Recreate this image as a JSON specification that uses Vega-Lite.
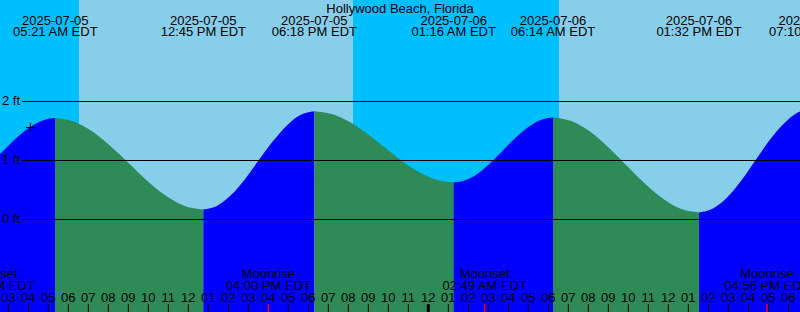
{
  "$schema": "https://vega.github.io/schema/vega-lite/v6.json",
  "width": 800,
  "height": 312,
  "autosize": {"type": "none"},
  "padding": 0,
  "background": "#87ceeb",
  "config": {"view": {"stroke": null}, "text": {"font": "Liberation Sans", "fontSize": 13, "color": "#000000"}},
  "datasets": {
    "sky": [
      {"start": "2025-07-05T02:35:00", "end": "2025-07-05T06:32:00", "kind": "night"},
      {"start": "2025-07-05T06:32:00", "end": "2025-07-05T20:14:00", "kind": "day"},
      {"start": "2025-07-05T20:14:00", "end": "2025-07-06T06:32:00", "kind": "night"},
      {"start": "2025-07-06T06:32:00", "end": "2025-07-06T18:35:00", "kind": "day"}
    ],
    "tide": [
      {"t": "2025-07-05T02:00:00", "h": 0.93, "seg": "s0", "phase": "rising"},
      {"t": "2025-07-05T02:35:00", "h": 1.11, "seg": "s0", "phase": "rising"},
      {"t": "2025-07-05T03:00:00", "h": 1.25, "seg": "s0", "phase": "rising"},
      {"t": "2025-07-05T03:30:00", "h": 1.41, "seg": "s0", "phase": "rising"},
      {"t": "2025-07-05T04:00:00", "h": 1.546, "seg": "s0", "phase": "rising"},
      {"t": "2025-07-05T04:30:00", "h": 1.648, "seg": "s0", "phase": "rising"},
      {"t": "2025-07-05T05:00:00", "h": 1.707, "seg": "s0", "phase": "rising"},
      {"t": "2025-07-05T05:21:00", "h": 1.72, "seg": "s0", "phase": "rising"},
      {"t": "2025-07-05T05:21:00", "h": 1.72, "seg": "s1", "phase": "falling"},
      {"t": "2025-07-05T06:16:00", "h": 1.661, "seg": "s1", "phase": "falling"},
      {"t": "2025-07-05T07:12:00", "h": 1.493, "seg": "s1", "phase": "falling"},
      {"t": "2025-07-05T08:07:00", "h": 1.242, "seg": "s1", "phase": "falling"},
      {"t": "2025-07-05T09:03:00", "h": 0.945, "seg": "s1", "phase": "falling"},
      {"t": "2025-07-05T09:58:00", "h": 0.648, "seg": "s1", "phase": "falling"},
      {"t": "2025-07-05T10:54:00", "h": 0.397, "seg": "s1", "phase": "falling"},
      {"t": "2025-07-05T11:49:00", "h": 0.229, "seg": "s1", "phase": "falling"},
      {"t": "2025-07-05T12:45:00", "h": 0.17, "seg": "s1", "phase": "falling"},
      {"t": "2025-07-05T12:45:00", "h": 0.17, "seg": "s2", "phase": "rising"},
      {"t": "2025-07-05T13:27:00", "h": 0.233, "seg": "s2", "phase": "rising"},
      {"t": "2025-07-05T14:08:00", "h": 0.414, "seg": "s2", "phase": "rising"},
      {"t": "2025-07-05T14:50:00", "h": 0.684, "seg": "s2", "phase": "rising"},
      {"t": "2025-07-05T15:31:00", "h": 1.0025, "seg": "s2", "phase": "rising"},
      {"t": "2025-07-05T16:13:00", "h": 1.321, "seg": "s2", "phase": "rising"},
      {"t": "2025-07-05T16:55:00", "h": 1.591, "seg": "s2", "phase": "rising"},
      {"t": "2025-07-05T17:36:00", "h": 1.772, "seg": "s2", "phase": "rising"},
      {"t": "2025-07-05T18:18:00", "h": 1.835, "seg": "s2", "phase": "rising"},
      {"t": "2025-07-05T18:18:00", "h": 1.835, "seg": "s3", "phase": "falling"},
      {"t": "2025-07-05T19:10:00", "h": 1.789, "seg": "s3", "phase": "falling"},
      {"t": "2025-07-05T20:03:00", "h": 1.658, "seg": "s3", "phase": "falling"},
      {"t": "2025-07-05T20:55:00", "h": 1.462, "seg": "s3", "phase": "falling"},
      {"t": "2025-07-05T21:47:00", "h": 1.231, "seg": "s3", "phase": "falling"},
      {"t": "2025-07-05T22:39:00", "h": 1.0, "seg": "s3", "phase": "falling"},
      {"t": "2025-07-05T23:32:00", "h": 0.804, "seg": "s3", "phase": "falling"},
      {"t": "2025-07-06T00:24:00", "h": 0.673, "seg": "s3", "phase": "falling"},
      {"t": "2025-07-06T01:16:00", "h": 0.627, "seg": "s3", "phase": "falling"},
      {"t": "2025-07-06T01:16:00", "h": 0.627, "seg": "s4", "phase": "rising"},
      {"t": "2025-07-06T01:53:00", "h": 0.669, "seg": "s4", "phase": "rising"},
      {"t": "2025-07-06T02:31:00", "h": 0.789, "seg": "s4", "phase": "rising"},
      {"t": "2025-07-06T03:08:00", "h": 0.967, "seg": "s4", "phase": "rising"},
      {"t": "2025-07-06T03:45:00", "h": 1.179, "seg": "s4", "phase": "rising"},
      {"t": "2025-07-06T04:22:00", "h": 1.39, "seg": "s4", "phase": "rising"},
      {"t": "2025-07-06T05:00:00", "h": 1.568, "seg": "s4", "phase": "rising"},
      {"t": "2025-07-06T05:37:00", "h": 1.688, "seg": "s4", "phase": "rising"},
      {"t": "2025-07-06T06:14:00", "h": 1.73, "seg": "s4", "phase": "rising"},
      {"t": "2025-07-06T06:14:00", "h": 1.73, "seg": "s5", "phase": "falling"},
      {"t": "2025-07-06T07:09:00", "h": 1.669, "seg": "s5", "phase": "falling"},
      {"t": "2025-07-06T08:04:00", "h": 1.494, "seg": "s5", "phase": "falling"},
      {"t": "2025-07-06T08:58:00", "h": 1.233, "seg": "s5", "phase": "falling"},
      {"t": "2025-07-06T09:53:00", "h": 0.925, "seg": "s5", "phase": "falling"},
      {"t": "2025-07-06T10:48:00", "h": 0.617, "seg": "s5", "phase": "falling"},
      {"t": "2025-07-06T11:43:00", "h": 0.356, "seg": "s5", "phase": "falling"},
      {"t": "2025-07-06T12:37:00", "h": 0.181, "seg": "s5", "phase": "falling"},
      {"t": "2025-07-06T13:32:00", "h": 0.12, "seg": "s5", "phase": "falling"},
      {"t": "2025-07-06T13:32:00", "h": 0.12, "seg": "s6", "phase": "rising"},
      {"t": "2025-07-06T14:14:00", "h": 0.187, "seg": "s6", "phase": "rising"},
      {"t": "2025-07-06T14:57:00", "h": 0.378, "seg": "s6", "phase": "rising"},
      {"t": "2025-07-06T15:39:00", "h": 0.663, "seg": "s6", "phase": "rising"},
      {"t": "2025-07-06T16:21:00", "h": 1.0, "seg": "s6", "phase": "rising"},
      {"t": "2025-07-06T17:03:00", "h": 1.337, "seg": "s6", "phase": "rising"},
      {"t": "2025-07-06T17:46:00", "h": 1.622, "seg": "s6", "phase": "rising"},
      {"t": "2025-07-06T18:28:00", "h": 1.813, "seg": "s6", "phase": "rising"},
      {"t": "2025-07-06T19:10:00", "h": 1.88, "seg": "s6", "phase": "rising"}
    ],
    "levels": [
      {"lvl": 0, "label": "0 ft"},
      {"lvl": 1, "label": "1 ft"},
      {"lvl": 2, "label": "2 ft"}
    ],
    "now": [{"t": "2025-07-05T04:06:00", "h": 1.559}],
    "events": [
      {"t": "2025-07-05T05:21:00"},
      {"t": "2025-07-05T12:45:00"},
      {"t": "2025-07-05T18:18:00"},
      {"t": "2025-07-06T01:16:00"},
      {"t": "2025-07-06T06:14:00"},
      {"t": "2025-07-06T13:32:00"},
      {"t": "2025-07-06T19:10:00"}
    ],
    "moon": [
      {"t": "2025-07-05T02:12:00", "ev": "Moonset"},
      {"t": "2025-07-05T16:00:00", "ev": "Moonrise"},
      {"t": "2025-07-06T02:49:00", "ev": "Moonset"},
      {"t": "2025-07-06T16:56:00", "ev": "Moonrise"}
    ],
    "hours": [
      {"t": "2025-07-05T03:00:00"}, {"t": "2025-07-05T04:00:00"}, {"t": "2025-07-05T05:00:00"}, {"t": "2025-07-05T06:00:00"},
      {"t": "2025-07-05T07:00:00"}, {"t": "2025-07-05T08:00:00"}, {"t": "2025-07-05T09:00:00"}, {"t": "2025-07-05T10:00:00"},
      {"t": "2025-07-05T11:00:00"}, {"t": "2025-07-05T12:00:00"}, {"t": "2025-07-05T13:00:00"}, {"t": "2025-07-05T14:00:00"},
      {"t": "2025-07-05T15:00:00"}, {"t": "2025-07-05T16:00:00"}, {"t": "2025-07-05T17:00:00"}, {"t": "2025-07-05T18:00:00"},
      {"t": "2025-07-05T19:00:00"}, {"t": "2025-07-05T20:00:00"}, {"t": "2025-07-05T21:00:00"}, {"t": "2025-07-05T22:00:00"},
      {"t": "2025-07-05T23:00:00"}, {"t": "2025-07-06T00:00:00"}, {"t": "2025-07-06T01:00:00"}, {"t": "2025-07-06T02:00:00"},
      {"t": "2025-07-06T03:00:00"}, {"t": "2025-07-06T04:00:00"}, {"t": "2025-07-06T05:00:00"}, {"t": "2025-07-06T06:00:00"},
      {"t": "2025-07-06T07:00:00"}, {"t": "2025-07-06T08:00:00"}, {"t": "2025-07-06T09:00:00"}, {"t": "2025-07-06T10:00:00"},
      {"t": "2025-07-06T11:00:00"}, {"t": "2025-07-06T12:00:00"}, {"t": "2025-07-06T13:00:00"}, {"t": "2025-07-06T14:00:00"},
      {"t": "2025-07-06T15:00:00"}, {"t": "2025-07-06T16:00:00"}, {"t": "2025-07-06T17:00:00"}, {"t": "2025-07-06T18:00:00"}
    ]
  },
  "layer": [
    {
      "data": {"name": "sky"},
      "mark": {"type": "rect", "clip": true},
      "encoding": {
        "x": {"field": "start", "type": "temporal", "axis": null,
              "scale": {"domain": [{"year": 2025, "month": 7, "date": 5, "hours": 2, "minutes": 35}, {"year": 2025, "month": 7, "date": 6, "hours": 18, "minutes": 35}], "nice": false}},
        "x2": {"field": "end"},
        "color": {"field": "kind", "type": "nominal", "legend": null,
                  "scale": {"domain": ["night", "day", "rising", "falling"], "range": ["#00bfff", "#87ceeb", "#0000ff", "#2e8b57"]}}
      }
    },
    {
      "data": {"name": "tide"},
      "mark": {"type": "area", "interpolate": "monotone", "clip": true},
      "encoding": {
        "x": {"field": "t", "type": "temporal", "axis": null},
        "y": {"field": "h", "type": "quantitative", "axis": null,
              "scale": {"domain": [-1.5678, 3.7203], "nice": false, "zero": false}},
        "y2": {"datum": -1.5678},
        "color": {"field": "phase", "type": "nominal", "legend": null,
                  "scale": {"domain": ["night", "day", "rising", "falling"], "range": ["#00bfff", "#87ceeb", "#0000ff", "#2e8b57"]}},
        "detail": {"field": "seg"}
      }
    },
    {
      "data": {"name": "levels"},
      "mark": {"type": "rule", "color": "#000000", "strokeWidth": 1, "clip": true},
      "encoding": {
        "y": {"field": "lvl", "type": "quantitative", "axis": null},
        "x": {"datum": {"year": 2025, "month": 7, "date": 5, "hours": 3, "minutes": 41}, "type": "temporal", "axis": null},
        "x2": {"datum": {"year": 2025, "month": 7, "date": 6, "hours": 18, "minutes": 35}}
      }
    },
    {
      "data": {"name": "levels"},
      "mark": {"type": "text", "align": "left", "baseline": "middle", "dx": 2, "clip": true},
      "encoding": {
        "y": {"field": "lvl", "type": "quantitative", "axis": null},
        "x": {"datum": {"year": 2025, "month": 7, "date": 5, "hours": 2, "minutes": 35}, "type": "temporal", "axis": null},
        "text": {"field": "label"}
      }
    },
    {
      "data": {"name": "now"},
      "mark": {"type": "point", "shape": "M-1,0L1,0M0,-1L0,1", "size": 81, "filled": false, "stroke": "#000000", "strokeWidth": 1, "opacity": 1, "clip": true},
      "encoding": {
        "x": {"field": "t", "type": "temporal", "axis": null},
        "y": {"field": "h", "type": "quantitative", "axis": null}
      }
    },
    {
      "data": {"values": [{}]},
      "mark": {"type": "text", "align": "center", "baseline": "alphabetic", "clip": true},
      "encoding": {
        "x": {"datum": {"year": 2025, "month": 7, "date": 5, "hours": 22, "minutes": 35}, "type": "temporal", "axis": null},
        "y": {"datum": 3.508, "type": "quantitative", "axis": null},
        "text": {"value": "Hollywood Beach, Florida"}
      }
    },
    {
      "data": {"name": "events"},
      "mark": {"type": "text", "align": "center", "baseline": "alphabetic", "clip": true},
      "encoding": {
        "x": {"field": "t", "type": "temporal", "axis": null},
        "y": {"datum": 3.305, "type": "quantitative", "axis": null},
        "text": {"field": "t", "type": "temporal", "format": "%Y-%m-%d"}
      }
    },
    {
      "data": {"name": "events"},
      "mark": {"type": "text", "align": "center", "baseline": "alphabetic", "clip": true},
      "encoding": {
        "x": {"field": "t", "type": "temporal", "axis": null},
        "y": {"datum": 3.105, "type": "quantitative", "axis": null},
        "text": {"field": "t", "type": "temporal", "format": "%I:%M %p EDT"}
      }
    },
    {
      "data": {"name": "moon"},
      "mark": {"type": "text", "align": "center", "baseline": "alphabetic", "clip": true},
      "encoding": {
        "x": {"field": "t", "type": "temporal", "axis": null},
        "y": {"datum": -1.0, "type": "quantitative", "axis": null},
        "text": {"field": "ev"}
      }
    },
    {
      "data": {"name": "moon"},
      "mark": {"type": "text", "align": "center", "baseline": "alphabetic", "clip": true},
      "encoding": {
        "x": {"field": "t", "type": "temporal", "axis": null},
        "y": {"datum": -1.2, "type": "quantitative", "axis": null},
        "text": {"field": "t", "type": "temporal", "format": "%I:%M %p EDT"}
      }
    },
    {
      "data": {"name": "hours"},
      "mark": {"type": "text", "align": "center", "baseline": "alphabetic", "clip": true},
      "encoding": {
        "x": {"field": "t", "type": "temporal", "axis": null},
        "y": {"datum": -1.395, "type": "quantitative", "axis": null},
        "text": {"field": "t", "type": "temporal", "format": "%I"}
      }
    },
    {
      "data": {"name": "hours"},
      "mark": {"type": "rule", "color": "#000000", "clip": true},
      "encoding": {
        "x": {"field": "t", "type": "temporal", "axis": null},
        "y": {"datum": -1.437, "type": "quantitative", "axis": null},
        "y2": {"datum": -1.5678},
        "strokeWidth": {"condition": {"test": "hours(datum.t) === 0", "value": 3}, "value": 1}
      }
    },
    {
      "data": {"name": "moon"},
      "mark": {"type": "rule", "color": "#ff0000", "strokeWidth": 1.5, "clip": true},
      "encoding": {
        "x": {"field": "t", "type": "temporal", "axis": null},
        "y": {"datum": -1.437, "type": "quantitative", "axis": null},
        "y2": {"datum": -1.5678}
      }
    }
  ]
}
